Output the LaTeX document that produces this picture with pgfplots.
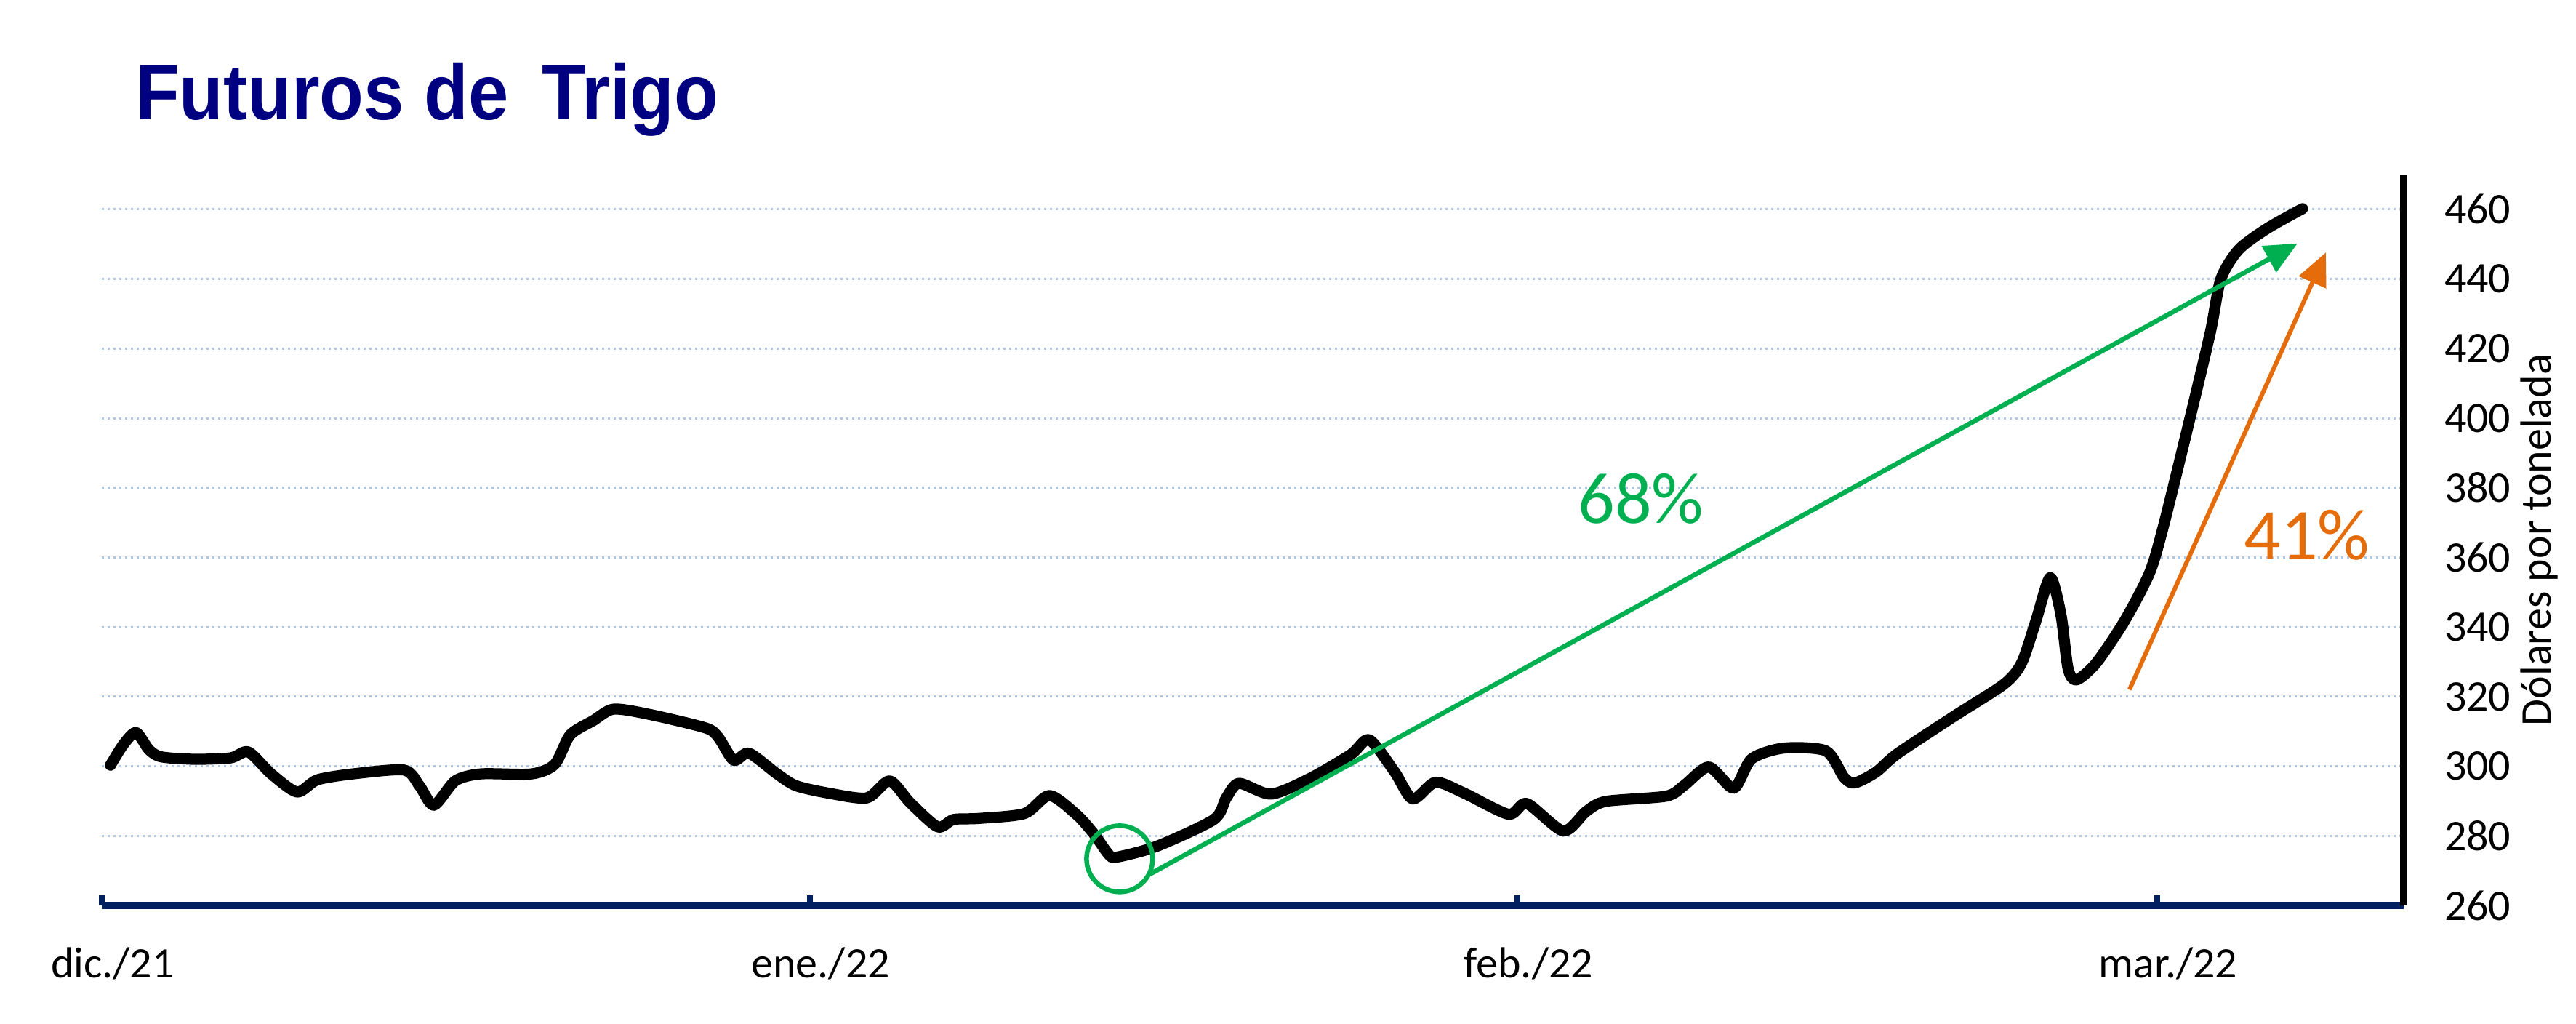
\documentclass[border=0pt]{standalone}
\usepackage{fontspec}
\setmainfont{Carlito}
\newfontfamily\titlefont{Liberation Sans}
\usepackage{graphicx}
\usepackage{pgfplots}
\pgfplotsset{compat=1.18}
\usetikzlibrary{arrows.meta}
\definecolor{titlenavy}{RGB}{0,0,128}
\definecolor{axnavy}{RGB}{0,32,96}
\definecolor{grn}{RGB}{0,176,80}
\definecolor{org}{RGB}{228,108,10}
\definecolor{gridc}{RGB}{175,198,230}

\pgfplotstableread{
day value
0.38 300.3
0.94 306.2
1.5 309.7
2.06 304.8
2.6 302.7
4.07 302.0
5.64 302.4
6.42 304.1
7.42 297.8
8.55 292.6
9.44 296.1
11.0 297.8
13.24 298.9
13.91 294.4
14.54 288.8
15.48 295.8
16.6 297.8
18.83 297.8
19.84 300.6
20.51 309.0
21.52 313.1
22.41 316.4
23.98 314.9
26.44 311.0
27.0 308.3
27.67 301.7
28.34 303.75
29.57 297.8
30.4 294.4
31.8 292.3
33.5 290.9
34.5 295.8
35.4 289.5
36.6 282.6
37.3 284.7
38.4 285.0
40.4 286.4
41.5 291.6
42.7 286.0
43.45 280.5
44.1 274.6
44.46 273.9
46.2 277.0
48.7 284.7
49.24 290.9
49.8 295.1
51.2 292.0
52.9 296.5
54.7 303.4
55.5 307.6
56.6 298.5
57.4 290.6
58.4 295.4
59.65 292.3
61.6 286.2
62.4 289.3
64.0 281.4
65.0 287.0
65.86 289.9
68.5 291.4
69.29 294.5
70.37 299.8
71.46 293.7
72.24 302.1
73.64 305.2
75.5 304.4
76.29 296.8
76.76 295.2
77.69 298.3
78.63 303.6
81.12 314.4
83.3 323.6
84.07 329.7
84.7 341.9
85.32 354.2
85.79 343.5
86.1 328.1
86.47 324.8
87.34 329.7
88.59 341.9
89.68 355.7
90.3 369.5
91.39 398.6
92.33 424.6
92.79 439.9
93.57 448.4
94.82 454.5
96.37 460.2
}\wheat

\begin{document}
\begin{tikzpicture}
\useasboundingbox (0,0) rectangle (708.6pt,281.4pt);
\node[anchor=base west, inner sep=0pt, text=titlenavy] at (37pt,248.4pt)
  {\scalebox{0.92}[1]{\titlefont\bfseries\fontsize{21.6}{24}\selectfont Futuros de\hspace{4pt} Trigo}};
\begin{axis}[
  at={(28pt,32.4pt)}, anchor=south west,
  scale only axis, width=633.2pt, height=201pt,
  xmin=0, xmax=100.8, ymin=260, ymax=470,
  axis x line*=bottom, axis y line*=right,
  x axis line style={axnavy, line width=2pt},
  y axis line style={black, line width=2.1pt},
  xtick={0,31,62,90}, xticklabels={dic./21,ene./22,feb./22,mar./22},
  xtick style={axnavy, line width=1.6pt},
  xtick align=inside,
  major tick length=2.9pt,
  ytick={260,280,...,460},
  ytick style={draw=none},
  ymajorgrids, grid style={gridc, line width=0.6pt, densely dotted},
  xticklabel style={anchor=base, yshift=-19.8pt, xshift=3pt, inner sep=0pt, font=\fontsize{12}{14}\selectfont},
  yticklabel style={anchor=west, xshift=11pt, inner sep=0pt, font=\fontsize{12}{14}\selectfont},
  /pgf/number format/assume math mode=true,
  clip=false,
]
\addplot[black, line width=3.05pt, smooth, tension=0.45, line cap=round, line join=round] table[x=day, y=value] {\wheat};
\draw[grn, line width=1.3pt] (axis cs:44.57,273.4) circle[radius=9.1pt];
\draw[grn, line width=1.3pt, -{Triangle[length=9pt,width=8pt]}] (axis cs:45.9,269.0) -- (axis cs:96.15,450.2);
\draw[org, line width=1.2pt, -{Triangle[length=9pt,width=8pt]}] (axis cs:88.79,322) -- (axis cs:97.39,447.6);
\node[text=grn, inner sep=0pt, font=\fontsize{20}{24}\selectfont] at (axis cs:67.4,376.8) {68\%};
\node[text=org, inner sep=0pt, font=\fontsize{20}{24}\selectfont] at (axis cs:96.56,366.3) {41\%};
\end{axis}
\node[rotate=90, inner sep=0pt, font=\fontsize{12}{14}\selectfont] at (698.4pt,132.9pt) {Dólares por tonelada};
\end{tikzpicture}
\end{document}
